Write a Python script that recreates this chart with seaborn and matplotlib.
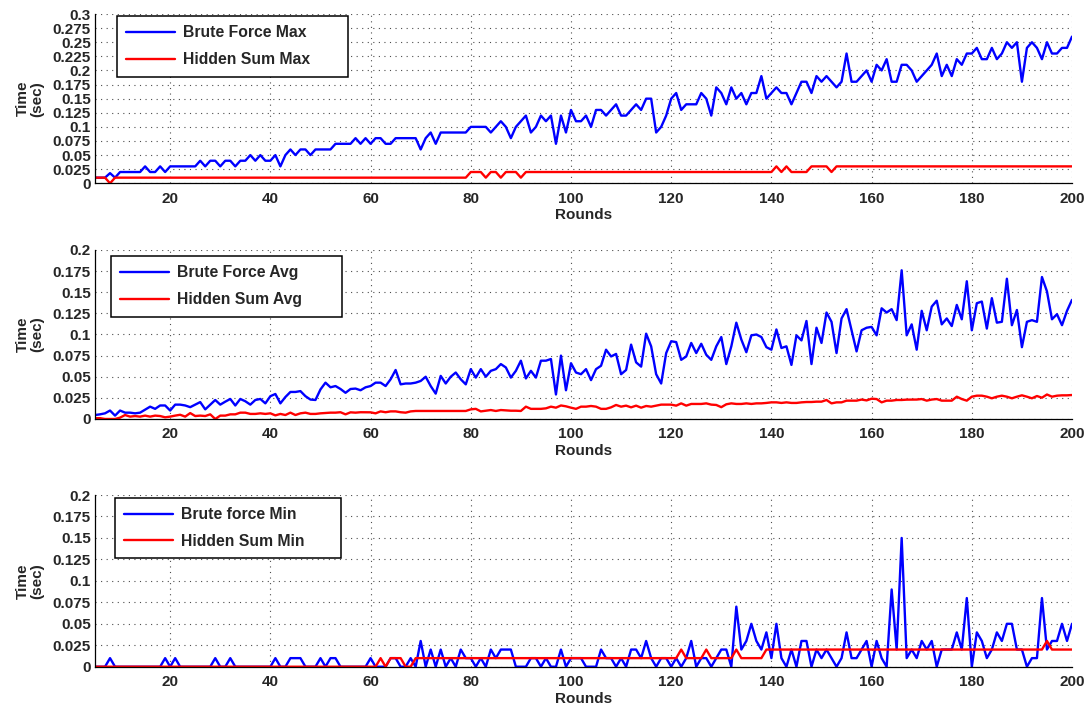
import matplotlib
matplotlib.use("Agg")
import matplotlib.pyplot as plt
import seaborn as sns
from matplotlib.ticker import MultipleLocator, FormatStrFormatter

# --- Data (one value per round 5..200) ---

rounds = list(range(5, 201))

brute_max = [
    0.01, 0.01, 0.01, 0.018, 0.01,
    0.02, 0.02, 0.02, 0.02, 0.02, 0.03, 0.02, 0.02, 0.03, 0.02,
    0.03, 0.03, 0.03, 0.03, 0.03, 0.03, 0.04, 0.03, 0.04, 0.04,
    0.03, 0.04, 0.04, 0.03, 0.04, 0.04, 0.05, 0.04, 0.05, 0.04,
    0.04, 0.05, 0.03, 0.05, 0.06, 0.05, 0.06, 0.06, 0.05, 0.06,
    0.06, 0.06, 0.06, 0.07, 0.07, 0.07, 0.07, 0.08, 0.07, 0.08,
    0.07, 0.08, 0.08, 0.07, 0.07, 0.08, 0.08, 0.08, 0.08, 0.08,
    0.06, 0.08, 0.09, 0.07, 0.09, 0.09, 0.09, 0.09, 0.09, 0.09,
    0.10, 0.10, 0.10, 0.10, 0.09, 0.10, 0.11, 0.10, 0.08, 0.10,
    0.11, 0.12, 0.09, 0.10, 0.12, 0.11, 0.12, 0.07, 0.12, 0.09,
    0.13, 0.11, 0.11, 0.12, 0.10, 0.13, 0.13, 0.12, 0.13, 0.14,
    0.12, 0.12, 0.13, 0.14, 0.13, 0.15, 0.15, 0.09, 0.10, 0.12,
    0.15, 0.16, 0.13, 0.14, 0.14, 0.14, 0.16, 0.15, 0.12, 0.17,
    0.16, 0.14, 0.17, 0.15, 0.16, 0.14, 0.16, 0.16, 0.19, 0.15,
    0.16, 0.17, 0.16, 0.16, 0.14, 0.16, 0.18, 0.18, 0.16, 0.19,
    0.18, 0.19, 0.18, 0.17, 0.18, 0.23, 0.18, 0.18, 0.19, 0.20,
    0.18, 0.21, 0.20, 0.22, 0.18, 0.18, 0.21, 0.21, 0.20, 0.18,
    0.19, 0.20, 0.21, 0.23, 0.19, 0.21, 0.19, 0.22, 0.21, 0.23,
    0.23, 0.24, 0.22, 0.22, 0.24, 0.22, 0.23, 0.25, 0.24, 0.25,
    0.18, 0.24, 0.25, 0.24, 0.22, 0.25, 0.23, 0.23, 0.24, 0.24,
    0.26,
]

hidden_max = (
    [0.01, 0.01, 0.01, 0.0, 0.01]
    + [0.01] * 70
    + [0.02, 0.02, 0.02, 0.01, 0.02, 0.02, 0.01, 0.02, 0.02, 0.02, 0.01]
    + [0.02] * 50
    + [0.03, 0.02, 0.03, 0.02, 0.02, 0.02, 0.02, 0.03, 0.03, 0.03, 0.03, 0.02]
    + [0.03] * 48
)

brute_avg = [
    0.0047, 0.0055, 0.0067, 0.010, 0.004,
    0.010, 0.0075, 0.0075, 0.0067, 0.0075, 0.011, 0.0146, 0.012, 0.016, 0.016,
    0.010, 0.017, 0.017, 0.016, 0.014, 0.017, 0.020, 0.0114, 0.017, 0.0225,
    0.017, 0.0205, 0.0237, 0.016, 0.0237, 0.021, 0.017, 0.0225, 0.0237, 0.0185,
    0.027, 0.0296, 0.0185, 0.026, 0.032, 0.032, 0.033, 0.027, 0.023, 0.0225,
    0.035, 0.043, 0.0375, 0.039, 0.0355, 0.031, 0.0355, 0.036, 0.034, 0.0375,
    0.039, 0.043, 0.043, 0.039, 0.047, 0.058, 0.041, 0.042, 0.042, 0.043,
    0.045, 0.050, 0.039, 0.030, 0.051, 0.042, 0.050, 0.055, 0.047, 0.041,
    0.059, 0.049, 0.059, 0.050, 0.057, 0.059, 0.065, 0.061, 0.049, 0.057,
    0.069, 0.048, 0.057, 0.049, 0.069, 0.069, 0.071, 0.029, 0.075, 0.034,
    0.066, 0.055, 0.053, 0.059, 0.046, 0.059, 0.063, 0.082, 0.074, 0.077,
    0.053, 0.058, 0.088, 0.067, 0.062, 0.101, 0.086, 0.053, 0.042, 0.078,
    0.092, 0.091, 0.070, 0.074, 0.090, 0.078, 0.089, 0.076, 0.070, 0.086,
    0.097, 0.065, 0.086, 0.114, 0.094, 0.079, 0.099, 0.100, 0.097, 0.085,
    0.082, 0.106, 0.084, 0.086, 0.064, 0.099, 0.093, 0.116, 0.065, 0.108,
    0.090, 0.126, 0.115, 0.078, 0.119, 0.130, 0.105, 0.080, 0.105, 0.108,
    0.109, 0.099, 0.131, 0.126, 0.130, 0.117, 0.176, 0.099, 0.112, 0.082,
    0.128, 0.105, 0.133, 0.140, 0.112, 0.119, 0.110, 0.135, 0.118, 0.163,
    0.105, 0.137, 0.139, 0.107, 0.143, 0.114, 0.115, 0.166, 0.111, 0.129,
    0.085, 0.115, 0.117, 0.115, 0.168, 0.151, 0.118, 0.124, 0.111, 0.128,
    0.141,
]

hidden_avg = [
    0.001, 0.001, 0.0, 0.0, 0.0,
    0.0016, 0.0047, 0.0028, 0.0035, 0.0028, 0.004, 0.0028, 0.004, 0.0035, 0.002,
    0.0028, 0.004, 0.005, 0.0028, 0.007, 0.0035, 0.004, 0.0035, 0.0055, 0.0,
    0.004, 0.004, 0.0055, 0.0055, 0.0075, 0.0075, 0.006, 0.006, 0.0067, 0.006,
    0.0067, 0.0043, 0.006, 0.0047, 0.0075, 0.0047, 0.0067, 0.0075, 0.006, 0.006,
    0.0067, 0.0071, 0.0075, 0.0075, 0.008, 0.0055, 0.0079, 0.0075, 0.008, 0.0079,
    0.0079, 0.0067, 0.009, 0.008, 0.009, 0.009, 0.008, 0.0075, 0.009, 0.0095,
    0.0095, 0.0095, 0.0095, 0.0095, 0.0095, 0.0095, 0.0095, 0.0095, 0.0095, 0.0095,
    0.0114, 0.012, 0.009, 0.0098, 0.0106, 0.0095, 0.0106, 0.0102, 0.0098, 0.0098,
    0.0095, 0.0146, 0.012, 0.012, 0.012, 0.0126, 0.0146, 0.0134, 0.016, 0.015,
    0.0134, 0.012, 0.0146, 0.0146, 0.0154, 0.0146, 0.012, 0.012, 0.0138, 0.0166,
    0.0146, 0.0158, 0.0138, 0.0158, 0.0134, 0.0154, 0.0146, 0.0158, 0.017, 0.017,
    0.017, 0.0158, 0.0185, 0.0158, 0.0178, 0.0178, 0.0178, 0.0185, 0.017, 0.0166,
    0.014, 0.0174, 0.0185, 0.0178, 0.0178, 0.0185, 0.0178, 0.0185, 0.0185, 0.019,
    0.0197, 0.0197, 0.019, 0.0197, 0.019, 0.019, 0.0197, 0.0201, 0.0201, 0.0205,
    0.0205, 0.0225, 0.0185, 0.0197, 0.0197, 0.0217, 0.0217, 0.0217, 0.023, 0.022,
    0.024, 0.0236, 0.0197, 0.0217, 0.0217, 0.0225, 0.0225, 0.0229, 0.023, 0.023,
    0.0236, 0.0217, 0.023, 0.0236, 0.0217, 0.0217, 0.0217, 0.0264, 0.0236, 0.0217,
    0.0264, 0.0276, 0.0276, 0.0264, 0.0245, 0.0264, 0.0276, 0.0264, 0.0245, 0.0264,
    0.028, 0.0264, 0.0245, 0.0272, 0.0252, 0.029, 0.0264, 0.0276, 0.028, 0.028,
    0.0284,
]

brute_min = [
    0, 0, 0, 0.01, 0,
    0, 0, 0, 0, 0, 0, 0, 0, 0, 0.01,
    0, 0.01, 0, 0, 0, 0, 0, 0, 0, 0.01,
    0, 0, 0.01, 0, 0, 0, 0, 0, 0, 0,
    0, 0.01, 0, 0, 0.01, 0.01, 0.01, 0, 0, 0,
    0.01, 0, 0.01, 0.01, 0, 0, 0, 0, 0, 0,
    0.01, 0, 0, 0, 0.01, 0.01, 0, 0, 0.01, 0,
    0.03, 0, 0.02, 0, 0.02, 0, 0.01, 0, 0.02, 0.01,
    0.01, 0, 0.01, 0, 0.02, 0.01, 0.02, 0.02, 0.02, 0,
    0, 0, 0.01, 0.01, 0, 0.01, 0, 0, 0.02, 0,
    0.01, 0.01, 0.01, 0, 0, 0, 0.02, 0.01, 0.01, 0,
    0.01, 0, 0.02, 0.02, 0.01, 0.03, 0.01, 0, 0.01, 0.01,
    0, 0.01, 0, 0.01, 0.03, 0, 0.01, 0.01, 0, 0.01,
    0.02, 0.02, 0, 0.07, 0.02, 0.03, 0.05, 0.03, 0.02, 0.04,
    0.01, 0.05, 0.01, 0, 0.02, 0, 0.03, 0.03, 0, 0.02,
    0.01, 0.02, 0.01, 0, 0.01, 0.04, 0.01, 0.01, 0.02, 0.03,
    0, 0.03, 0.01, 0, 0.09, 0.02, 0.15, 0.01, 0.02, 0.01,
    0.03, 0.02, 0.03, 0, 0.02, 0.02, 0.02, 0.04, 0.02, 0.08,
    0, 0.04, 0.03, 0.01, 0.02, 0.04, 0.03, 0.05, 0.05, 0.02,
    0.02, 0, 0.01, 0.01, 0.08, 0.02, 0.03, 0.03, 0.05, 0.03,
    0.05,
]

hidden_min = (
    [0.0] * 57
    + [0.01, 0.0, 0.01, 0.01, 0.01, 0.0, 0.0]
    + [0.01] * 53
    + [0.02, 0.01, 0.01, 0.01, 0.01, 0.02, 0.01, 0.01, 0.01, 0.01, 0.01,
       0.02, 0.01, 0.01, 0.01, 0.01, 0.01]
    + [0.02] * 56
    + [0.03, 0.02, 0.02, 0.02, 0.02, 0.02]
)

panels = [
    (brute_max, hidden_max, "Brute Force Max", "Hidden Sum Max", 0.3,
     [0.0870, 0.7411, 0.8947, 0.2391], (0.0225, 0.622, 0.2365, 0.366)),
    (brute_avg, hidden_avg, "Brute Force Avg", "Hidden Sum Avg", 0.2,
     [0.0870, 0.4082, 0.8947, 0.2387], (0.016, 0.596, 0.237, 0.368)),
    (brute_min, hidden_min, "Brute force Min", "Hidden Sum Min", 0.2,
     [0.0870, 0.0583, 0.8947, 0.2425], (0.0205, 0.621, 0.2315, 0.363)),
]

# --- Figure ---

sns.set_style("white")
plt.rcParams["font.family"] = ["Liberation Sans", "DejaVu Sans"]
plt.rcParams["font.weight"] = "bold"

fig = plt.figure(figsize=(10.92, 7.08), dpi=100)

for bf, hs, bf_label, hs_label, ymax, rect, leg_box in panels:
    ax = fig.add_axes(rect)
    sns.lineplot(x=rounds, y=bf, color="#0000ff", linewidth=1.7, label=bf_label, ax=ax)
    sns.lineplot(x=rounds, y=hs, color="#ff0000", linewidth=1.7, label=hs_label, ax=ax)

    ax.set_xlim(5, 200)
    ax.set_ylim(0, ymax)
    ax.xaxis.set_major_locator(MultipleLocator(20))
    ax.yaxis.set_major_locator(MultipleLocator(0.025))
    ax.yaxis.set_major_formatter(FormatStrFormatter("%g"))
    ax.tick_params(direction="in", length=5, width=0.8, labelsize=11)
    ax.tick_params(axis="x", pad=6)
    ax.tick_params(axis="y", pad=3)
    for lab in ax.get_xticklabels() + ax.get_yticklabels():
        lab.set_fontweight("bold")

    ax.set_axisbelow(True)
    ax.grid(True, linestyle=(0, (1, 4)), color="0.3", linewidth=0.8)
    for side in ("top", "right"):
        ax.spines[side].set_visible(False)
    for side in ("left", "bottom"):
        ax.spines[side].set_color("black")
        ax.spines[side].set_linewidth(0.9)

    ax.set_xlabel("Rounds", fontsize=11, fontweight="bold", labelpad=2)
    ax.set_ylabel("Time\n(sec)", fontsize=11, fontweight="bold", labelpad=6,
                  linespacing=1.0)

    leg = ax.legend(loc="upper left", bbox_to_anchor=leg_box, mode="expand",
                    borderaxespad=0, fontsize=11.3, handlelength=3.1,
                    handletextpad=0.5, labelspacing=0.75, borderpad=0.6,
                    fancybox=False, framealpha=1, edgecolor="black")
    leg.get_frame().set_linewidth(1.1)
    for t in leg.get_texts():
        t.set_fontweight("bold")

fig.savefig("out.png", dpi=100)
